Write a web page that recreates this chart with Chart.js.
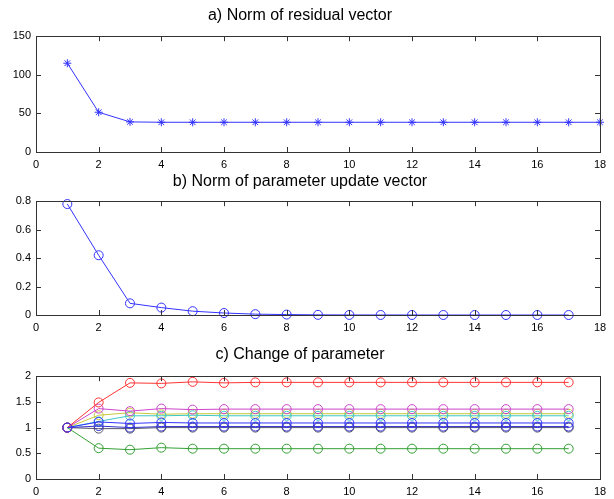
<!DOCTYPE html>
<html>
<head>
<meta charset="utf-8">
<script src="https://cdn.jsdelivr.net/npm/chart.js@4.4.1/dist/chart.umd.min.js"></script>
<style>
  html, body { margin: 0; padding: 0; background: #fff; }
  body { width: 614px; height: 499px; position: relative; overflow: hidden; }
  .panel { position: absolute; left: 0; width: 614px; }
</style>
</head>
<body>
<div class="panel" style="top:0px;height:174px"><canvas id="chartA"></canvas></div>
<div class="panel" style="top:166px;height:171px"><canvas id="chartB"></canvas></div>
<div class="panel" style="top:338px;height:161px"><canvas id="chartC"></canvas></div>

<script>
// ---------------- data ----------------
const itersA = [1, 2, 3, 4, 5, 6, 7, 8, 9, 10, 11, 12, 13, 14, 15, 16, 17, 18];
const itersBC = [1, 2, 3, 4, 5, 6, 7, 8, 9, 10, 11, 12, 13, 14, 15, 16, 17];

const residualNorm = [115, 51.5, 39, 38.5, 38.5, 38.5, 38.5, 38.5, 38.5,
                      38.5, 38.5, 38.5, 38.5, 38.5, 38.5, 38.5, 38.5, 38.5];

const updateNorm = [0.78, 0.42, 0.082, 0.052, 0.027, 0.014, 0.006, 0.003, 0.001,
                    0.0005, 0.0002, 0.0001, 0, 0, 0, 0, 0];

const paramBlue1   = [1, 1.11, 1.08, 1.10, 1.09, 1.09, 1.09, 1.09, 1.09, 1.09, 1.09, 1.09, 1.09, 1.09, 1.09, 1.09, 1.09];
const paramGreen   = [1, 0.60, 0.57, 0.61, 0.59, 0.59, 0.59, 0.59, 0.59, 0.59, 0.59, 0.59, 0.59, 0.59, 0.59, 0.59, 0.59];
const paramRed     = [1, 1.49, 1.87, 1.86, 1.89, 1.87, 1.88, 1.88, 1.88, 1.88, 1.88, 1.88, 1.88, 1.88, 1.88, 1.88, 1.88];
const paramCyan    = [1, 1.12, 1.23, 1.23, 1.24, 1.23, 1.23, 1.23, 1.23, 1.23, 1.23, 1.23, 1.23, 1.23, 1.23, 1.23, 1.23];
const paramMagenta = [1, 1.37, 1.32, 1.37, 1.35, 1.36, 1.36, 1.36, 1.36, 1.36, 1.36, 1.36, 1.36, 1.36, 1.36, 1.36, 1.36];
const paramYellow  = [1, 1.24, 1.29, 1.26, 1.27, 1.27, 1.27, 1.27, 1.27, 1.27, 1.27, 1.27, 1.27, 1.27, 1.27, 1.27, 1.27];
const paramBlack   = [1, 0.98, 0.98, 1.00, 1.00, 1.00, 1.00, 1.00, 1.00, 1.00, 1.00, 1.00, 1.00, 1.00, 1.00, 1.00, 1.00];
const paramBlue2   = [1, 1.03, 1.00, 1.02, 1.02, 1.02, 1.02, 1.02, 1.02, 1.02, 1.02, 1.02, 1.02, 1.02, 1.02, 1.02, 1.02];

const FONT = "'Liberation Sans', Arial, Helvetica, sans-serif";

// ---------------- helpers ----------------
function toPoints(xs, ys) {
    return ys.map((y, i) => ({ x: xs[i], y: y }));
}

// MATLAB style: full box with inward ticks on all four sides
const boxPlugin = {
    id: "matlabBox",
    afterDraw(chart) {
        const ctx = chart.ctx;
        const a = chart.chartArea;
        const xs = chart.scales.x;
        const ys = chart.scales.y;
        const tl = 5;
        ctx.save();
        ctx.strokeStyle = "#333";
        ctx.lineWidth = 1;
        ctx.beginPath();
        xs.ticks.forEach(t => {
            const px = Math.round(xs.getPixelForValue(t.value)) + 0.5;
            ctx.moveTo(px, a.bottom); ctx.lineTo(px, a.bottom - tl);
            ctx.moveTo(px, a.top);    ctx.lineTo(px, a.top + tl);
        });
        ys.ticks.forEach(t => {
            const py = Math.round(ys.getPixelForValue(t.value)) + 0.5;
            ctx.moveTo(a.left, py);  ctx.lineTo(a.left + tl, py);
            ctx.moveTo(a.right, py); ctx.lineTo(a.right - tl, py);
        });
        ctx.stroke();
        ctx.strokeRect(Math.round(a.left) + 0.5, Math.round(a.top) + 0.5,
                       Math.round(a.right - a.left), Math.round(a.bottom - a.top));
        ctx.restore();
    }
};

// plain number labels, like "1" and "0.5" (no trailing zeros)
const plainLabel = (v) => String(+Number(v).toFixed(3));

function makeOptions(title, titlePad, yMin, yMax, yStep, xHeight) {
    return {
        responsive: true,
        maintainAspectRatio: false,
        animation: false,
        layout: { padding: { left: 0, right: 14, top: 0, bottom: 0 } },
        plugins: {
            legend: { display: false },
            tooltip: { enabled: false },
            title: {
                display: true,
                text: title,
                color: "#000",
                font: { family: FONT, size: 16, weight: "normal" },
                padding: titlePad
            }
        },
        scales: {
            x: {
                type: "linear",
                min: 0, max: 18,
                ticks: { stepSize: 2, color: "#000", padding: 6, callback: plainLabel,
                         font: { family: FONT, size: 11 } },
                grid: { display: false, drawTicks: false },
                border: { display: false },
                afterFit: (s) => { s.height = xHeight; }
            },
            y: {
                min: yMin, max: yMax,
                ticks: { stepSize: yStep, color: "#000", padding: 5, callback: plainLabel,
                         font: { family: FONT, size: 11 } },
                grid: { display: false, drawTicks: false },
                border: { display: false },
                afterFit: (s) => { s.width = 36; }
            }
        }
    };
}

function lineSet(xs, ys, color, style, radius) {
    return {
        data: toPoints(xs, ys),
        borderColor: color,
        backgroundColor: "rgba(0,0,0,0)",
        pointBorderColor: color,
        pointBackgroundColor: "rgba(0,0,0,0)",
        borderWidth: 1,
        pointBorderWidth: 1,
        pointStyle: style,
        pointRadius: radius,
        tension: 0,
        fill: false,
        clip: false
    };
}

// ---------------- a) residual ----------------
new Chart(document.getElementById("chartA"), {
    type: "line",
    data: { datasets: [lineSet(itersA, residualNorm, "#3333ff", "star", 4)] },
    options: makeOptions("a) Norm of residual vector", { top: 6, bottom: 11 }, 0, 150, 50, 22),
    plugins: [boxPlugin]
});

// ---------------- b) parameter update ----------------
new Chart(document.getElementById("chartB"), {
    type: "line",
    data: { datasets: [lineSet(itersBC, updateNorm, "#3333ff", "circle", 4.5)] },
    options: makeOptions("b) Norm of parameter update vector", { top: 6, bottom: 10 }, 0, 0.8, 0.2, 22),
    plugins: [boxPlugin]
});

// ---------------- c) parameter change ----------------
// Chart.js paints dataset 0 on top, so the blue one comes first
const paramSeries = [
    [paramBlue1,   "#3333ff"],
    [paramRed,     "#ff3333"],
    [paramBlue2,   "#3333cc"],
    [paramMagenta, "#cc44cc"],
    [paramCyan,    "#3cc8c8"],
    [paramYellow,  "#c8c83a"],
    [paramGreen,   "#33a033"],
    [paramBlack,   "#555566"]
];

new Chart(document.getElementById("chartC"), {
    type: "line",
    data: { datasets: paramSeries.map(([vals, col]) => lineSet(itersBC, vals, col, "circle", 4.5)) },
    options: makeOptions("c) Change of parameter", { top: 7, bottom: 12 }, 0, 2, 0.5, 20),
    plugins: [boxPlugin]
});
</script>
</body>
</html>
